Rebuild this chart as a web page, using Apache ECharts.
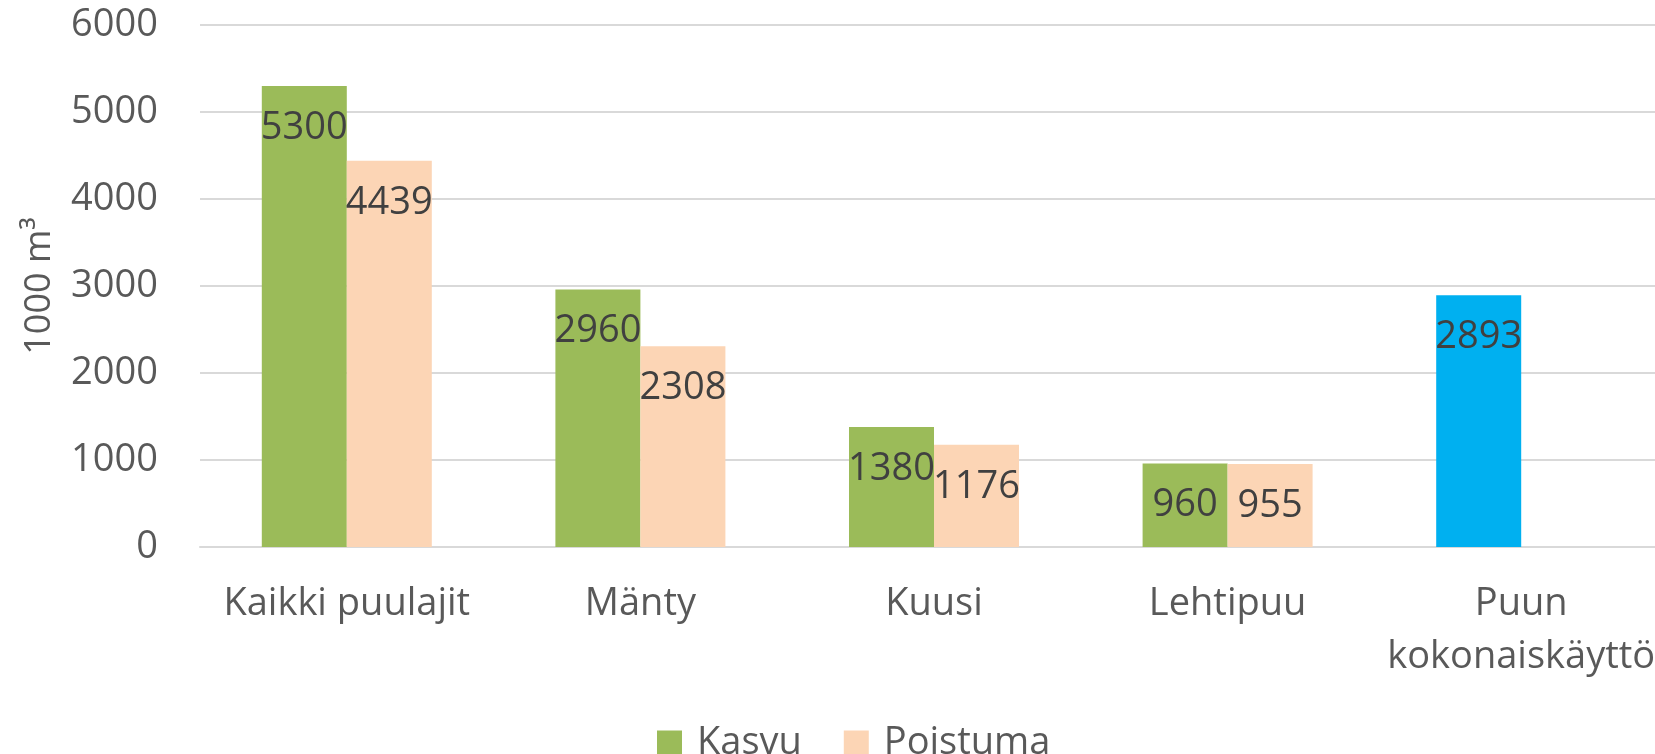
<!DOCTYPE html>
<html>
  <head>
    <meta charset="utf-8">
    <title>Kasvu ja poistuma</title>
    <script src="https://cdn.jsdelivr.net/npm/echarts@6/dist/echarts.min.js"></script>
    <style>
    html, body { margin: 0; padding: 0; background: #fff; overflow: hidden; }
    /* kuvaaja jatkuu hieman ikkunan oikean reunan yli */
    #chart { width: 1668px; height: 754px; }
    </style>
  </head>
  <body>
    <div id="chart"></div>
    <script>
      var categories = ['Kaikki puulajit', 'Mänty', 'Kuusi', 'Lehtipuu', 'Puun\nkokonaiskäyttö'];
      var kasvu = [5300, 2960, 1380, 960, 2893];
      var poistuma = [4439, 2308, 1176, 955, null];
      var yTicks = [0, 1000, 2000, 3000, 4000, 5000, 6000];

      // viimeinen pylväs (kokonaiskäyttö) on sininen
      var kasvuItems = kasvu.map(function (v, i) {
        return i === categories.length - 1 ? { value: v, itemStyle: { color: '#00B0F0' } } : v;
      });

      var font = 'Open Sans';
      var label = {
        show: true,
        position: 'insideTop',
        distance: 23,
        color: '#404040',
        fontFamily: font,
        fontSize: 38
      };

      var chart = echarts.init(document.getElementById('chart'));
      chart.setOption({
        animation: false,
        grid: { left: 200, right: 0, top: 25, bottom: 207, containLabel: false },
        legend: {
          data: ['Kasvu', 'Poistuma'],
          left: 652,
          top: 719,
          icon: 'rect',
          itemWidth: 25,
          itemHeight: 25,
          itemGap: 42,
          textStyle: { color: '#595959', fontFamily: font, fontSize: 38, padding: [0, 0, 0, 10] }
        },
        xAxis: {
          type: 'category',
          data: categories,
          axisLine: { lineStyle: { color: '#d9d9d9', width: 2 } },
          axisTick: { show: false },
          axisLabel: { color: '#595959', fontFamily: font, fontSize: 38, margin: 31, lineHeight: 53, interval: 0 }
        },
        yAxis: {
          type: 'value',
          min: yTicks[0],
          max: yTicks[yTicks.length - 1],
          interval: 1000,
          name: '1000 m³',
          nameLocation: 'middle',
          nameGap: 142,
          nameTextStyle: { color: '#595959', fontFamily: font, fontSize: 36 },
          axisLine: { show: false },
          axisTick: { show: false },
          axisLabel: {
            color: '#595959', fontFamily: font, fontSize: 38, margin: 42,
            formatter: function (v) { return String(v); }
          },
          splitLine: { lineStyle: { color: '#d9d9d9', width: 2 } }
        },
        series: [
          {
            name: 'Kasvu',
            type: 'bar',
            data: kasvuItems,
            barWidth: 85,
            barGap: '0%',
            itemStyle: { color: '#9BBB59' },
            label: label
          },
          {
            name: 'Poistuma',
            type: 'bar',
            data: poistuma,
            barWidth: 85,
            itemStyle: { color: '#FCD5B5' },
            label: label
          }
        ]
      });
    </script>
  </body>
</html>
